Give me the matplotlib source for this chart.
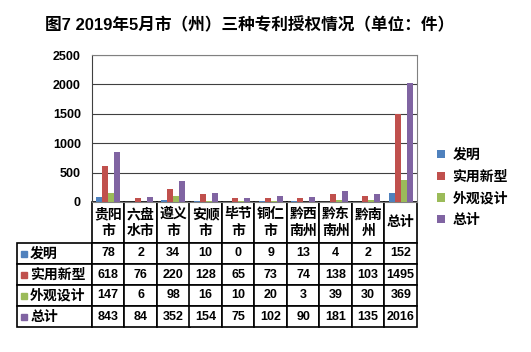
import numpy as np
import matplotlib.pyplot as plt
from matplotlib.patches import Rectangle

plt.rcParams['font.family'] = ['Liberation Sans', 'Noto Sans CJK SC']
plt.rcParams['font.weight'] = 'bold'

# data
regions = ['贵阳市', '六盘水市', '遵义市', '安顺市', '毕节市', '铜仁市', '黔西南州', '黔东南州', '黔南州', '总计']
header_labels = ['贵阳\n市', '六盘\n水市', '遵义\n市', '安顺\n市', '毕节\n市', '铜仁\n市', '黔西\n南州', '黔东\n南州', '黔南\n州', '总计']
series = ['发明', '实用新型', '外观设计', '总计']
invention = [78, 2, 34, 10, 0, 9, 13, 4, 2, 152]
utility = [618, 76, 220, 128, 65, 73, 74, 138, 103, 1495]
design = [147, 6, 98, 16, 10, 20, 3, 39, 30, 369]
total = [843, 84, 352, 154, 75, 102, 90, 181, 135, 2016]
colors = ['#4F81BD', '#C0504D', '#9BBB59', '#8064A2']
yticks = [0, 500, 1000, 1500, 2000, 2500]

W, H = 531, 352
fig = plt.figure(figsize=(W / 100, H / 100), dpi=100)
ax_w, ax_h = 325, 147  # plot area in pixels
ax = fig.add_axes([92 / W, 1 - 202 / H, ax_w / W, ax_h / H])

values = [invention, utility, design, total]
x = np.arange(len(regions))
w = 1 / 5.5
bars = []
for i, (name, vals, c) in enumerate(zip(series, values, colors)):
    b = ax.bar(x + (i - 1.5) * w, vals, w, color=c, label=name, zorder=3)
    bars.append(b)

ax.set_xlim(-0.5, len(regions) - 0.5)
ax.set_ylim(0, 2500)
ax.set_yticks(yticks)
ax.set_xticks([])
ax.grid(axis='y', color='#404040', lw=0.8, zorder=0)
for s in ax.spines.values():
    s.set_color('#808080')
ax.spines['left'].set_color('#404040')
ax.tick_params(axis='y', length=0, labelsize=9, pad=8)

# data table under the chart
cell_text = [[str(v) for v in vals] for vals in values]
tbl = ax.table(cellText=cell_text, rowLabels=series, colLabels=header_labels,
               cellLoc='center', rowLoc='left', loc='bottom')
tbl.auto_set_font_size(False)
for (r, c), cell in tbl.get_celld().items():
    cell.set_edgecolor('black')
    cell.set_linewidth(1.2)
    cell.set_width((75 if c == -1 else 32.5) / ax_w)
    cell.set_height((41 if r == 0 else 21) / ax_h)
    txt = cell.get_text()
    txt.set_fontweight('bold')
    if r == 0:
        txt.set_fontsize(10)
        txt.set_linespacing(1.25)
    elif c == -1:
        txt.set_fontsize(10)
        cell.PAD = 13 / 75
    else:
        txt.set_fontsize(9)

# colour keys in row labels
for i, c in enumerate(colors):
    yc = 243 + 21 * (i + 0.5)
    fig.add_artist(Rectangle((21 / W, 1 - (yc + 3) / H), 6 / W, 6 / H,
                             transform=fig.transFigure, color=c))

fig.legend(handles=bars, labels=series, loc='upper left',
           bbox_to_anchor=(437 / W, 1 - 148 / H), frameon=False, fontsize=10,
           handlelength=0.55, handleheight=0.55, handletextpad=0.55,
           labelspacing=0.55, borderaxespad=0, borderpad=0)

fig.text(250 / W, 1 - 25 / H, '图7 2019年5月市（州）三种专利授权情况（单位：件）',
         ha='center', va='center', fontsize=12, weight='bold')

fig.savefig('out.png', dpi=100)
